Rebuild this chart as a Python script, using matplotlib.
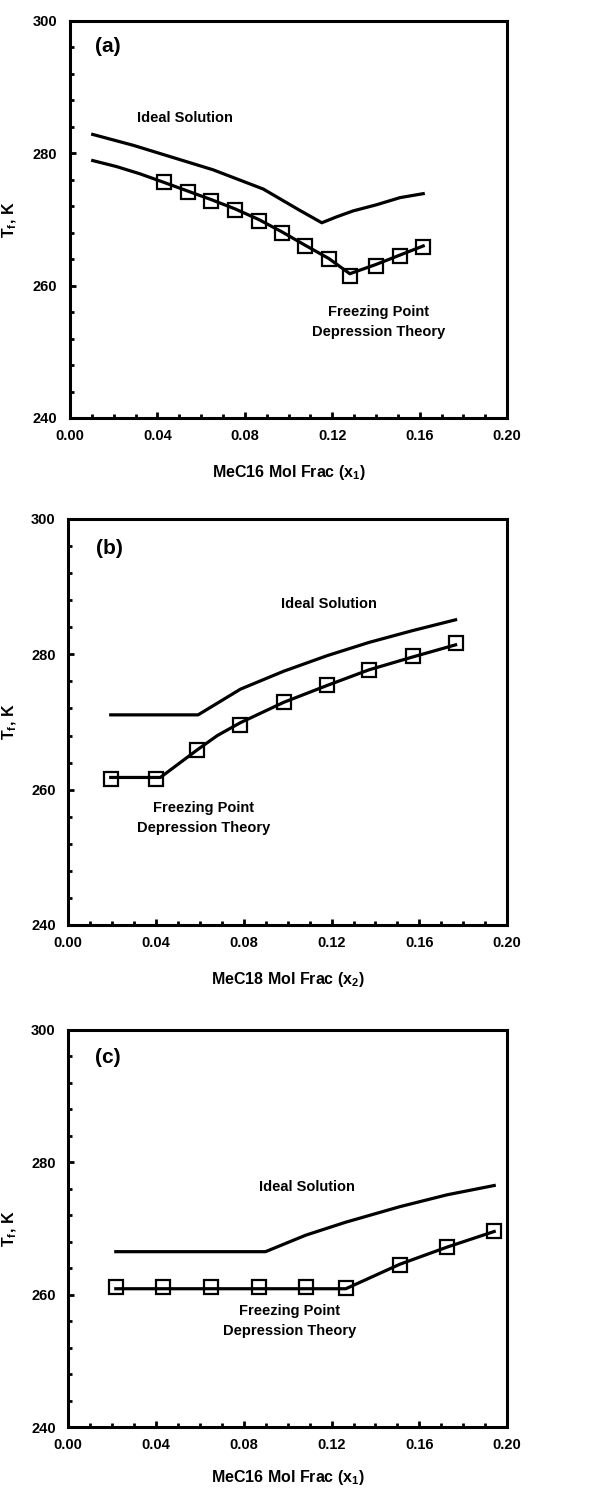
import matplotlib
matplotlib.use("Agg")
import matplotlib.pyplot as plt
from matplotlib.ticker import MultipleLocator, FormatStrFormatter

plt.rcParams['font.family'] = ['Liberation Sans', 'DejaVu Sans']
plt.rcParams['font.weight'] = 'bold'
plt.rcParams['mathtext.fontset'] = 'custom'
plt.rcParams['mathtext.rm'] = 'Liberation Sans:bold'
plt.rcParams['mathtext.it'] = 'Liberation Sans:bold'
plt.rcParams['mathtext.default'] = 'rm'

# panel (a) - MeC16 mole fraction
a_x_pts = [0.0430, 0.0538, 0.0646, 0.0755, 0.0863, 0.0971, 0.1076, 0.1184, 0.1280, 0.1400, 0.1508, 0.1616]
a_T_pts = [275.6, 274.1, 272.8, 271.4, 269.8, 267.9, 266.0, 264.0, 261.4, 263.0, 264.5, 265.9]
a_x_fpd = [0.0104, 0.0212, 0.0320, 0.0430, 0.0538, 0.0646, 0.0755, 0.0863, 0.0971, 0.1076, 0.1184, 0.1280, 0.1400, 0.1508, 0.1616]
a_T_fpd = [278.9, 278.0, 276.9, 275.6, 274.3, 273.0, 271.6, 270.0, 268.1, 266.1, 264.1, 261.8, 263.2, 264.6, 266.0]
a_x_ideal = [0.0104, 0.0290, 0.0655, 0.0884, 0.1050, 0.1152, 0.1220, 0.1296, 0.1400, 0.1510, 0.1616]
a_T_ideal = [282.85, 281.2, 277.5, 274.6, 271.4, 269.5, 270.4, 271.3, 272.2, 273.3, 273.9]

# panel (b) - MeC18 mole fraction
b_x_pts = [0.0194, 0.0402, 0.0589, 0.0785, 0.0982, 0.1180, 0.1370, 0.1569, 0.1765]
b_T_pts = [261.5, 261.5, 265.9, 269.6, 272.9, 275.4, 277.7, 279.7, 281.6]
b_x_fpd = [0.0194, 0.0420, 0.0589, 0.0680, 0.0785, 0.0982, 0.1180, 0.1370, 0.1569, 0.1765]
b_T_fpd = [261.8, 261.8, 265.9, 268.0, 269.9, 272.9, 275.4, 277.7, 279.6, 281.4]
b_x_ideal = [0.0194, 0.0592, 0.0785, 0.0982, 0.1180, 0.1370, 0.1569, 0.1765]
b_T_ideal = [271.05, 271.05, 274.85, 277.5, 279.8, 281.75, 283.5, 285.1]

# panel (c) - MeC16 mole fraction
c_x_pts = [0.0217, 0.0433, 0.0651, 0.0869, 0.1083, 0.1265, 0.1511, 0.1727, 0.1941]
c_T_pts = [261.1, 261.1, 261.1, 261.1, 261.1, 261.0, 264.5, 267.2, 269.7]
c_x_fpd = [0.0217, 0.1265, 0.1511, 0.1727, 0.1941]
c_T_fpd = [260.9, 260.9, 264.6, 267.2, 269.55]
c_x_ideal = [0.0217, 0.0899, 0.1083, 0.1265, 0.1511, 0.1727, 0.1941]
c_T_ideal = [266.5, 266.5, 269.0, 270.96, 273.3, 275.1, 276.5]

panels = [
    ("(a)", "MeC16 Mol Frac (x$_1$)", a_x_pts, a_T_pts, a_x_fpd, a_T_fpd, a_x_ideal, a_T_ideal,
     (0.0114, 296.2), (0.0526, 285.3), (0.141, 254.5)),
    ("(b)", "MeC18 Mol Frac (x$_2$)", b_x_pts, b_T_pts, b_x_fpd, b_T_fpd, b_x_ideal, b_T_ideal,
     (0.0129, 295.7), (0.119, 287.5), (0.0615, 255.8)),
    ("(c)", "MeC16 Mol Frac (x$_1$)", c_x_pts, c_T_pts, c_x_fpd, c_T_fpd, c_x_ideal, c_T_ideal,
     (0.0121, 295.8), (0.109, 276.2), (0.1007, 256.0)),
]

# axes boxes in figure fractions [left, bottom, width, height]
boxes = [
    [0.114, 0.7206, 0.712, 0.2654],
    [0.111, 0.3817, 0.715, 0.2714],
    [0.111, 0.0461, 0.715, 0.2654],
]
xlab_gap = [45, 45, 41]   # pixels from axis bottom to label top

fig = plt.figure(figsize=(6.14, 14.96), dpi=100)

for box, gap, p in zip(boxes, xlab_gap, panels):
    tag, xlab, xp, tp, xf, tf, xi, ti, tagpos, idpos, fppos = p
    ax = fig.add_axes(box)
    ax.plot(xi, ti, color="black", lw=2.3, solid_joinstyle="round")
    ax.plot(xf, tf, color="black", lw=2.3, solid_joinstyle="round")
    ax.plot(xp, tp, ls="none", marker="s", ms=10, mfc="none", mec="black", mew=1.6)

    ax.set_xlim(0, 0.20)
    ax.set_ylim(240, 300)
    ax.xaxis.set_major_locator(MultipleLocator(0.04))
    ax.xaxis.set_minor_locator(MultipleLocator(0.01))
    ax.yaxis.set_major_locator(MultipleLocator(20))
    ax.yaxis.set_minor_locator(MultipleLocator(4))
    ax.xaxis.set_major_formatter(FormatStrFormatter("%.2f"))
    ax.tick_params(which="both", direction="in", width=2, labelsize=10.5)
    ax.tick_params(which="major", length=4)
    ax.tick_params(which="minor", length=3)
    ax.tick_params(axis="x", pad=8)
    ax.tick_params(axis="y", pad=9)
    for s in ax.spines.values():
        s.set_linewidth(2.2)

    ax.set_xlabel(xlab, fontsize=11.5, fontweight="bold")
    ax.set_ylabel("T$_f$, K", fontsize=11.5, fontweight="bold")
    w_px = box[2] * 614
    left_px = box[0] * 614
    ax.yaxis.set_label_coords((19 - left_px) / w_px, 0.5)
    h_px = box[3] * 1496
    ax.xaxis.set_label_coords(0.5, -gap / h_px)

    ax.text(tagpos[0], tagpos[1], tag, fontsize=15, fontweight="bold", ha="left", va="center")
    ax.text(idpos[0], idpos[1], "Ideal Solution", fontsize=10.5, fontweight="bold",
            ha="center", va="center")
    ax.text(fppos[0], fppos[1], "Freezing Point\nDepression Theory", fontsize=10.5,
            fontweight="bold", ha="center", va="center", linespacing=1.6)

fig.savefig("out.png", dpi=100)
